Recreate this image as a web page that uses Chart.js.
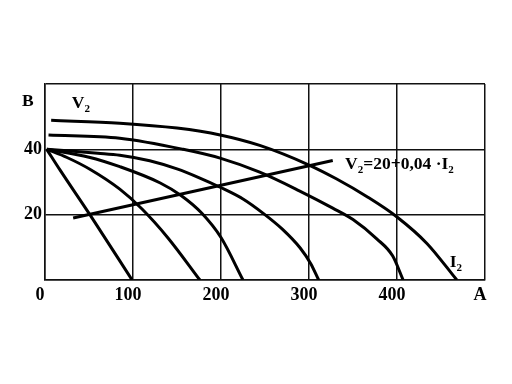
<!DOCTYPE html>
<html><head><meta charset="utf-8">
<script src="https://cdn.jsdelivr.net/npm/chart.js@4"></script>
<style>html,body{margin:0;padding:0;background:#fff}#c{display:block}</style>
</head><body>
<canvas id="c" width="512" height="384"></canvas>
<script>
// Axis ticks
const xTicks = [0, 100, 200, 300, 400, 500];
const xTickLabels = ['0', '100', '200', '300', '400', 'А'];
const yTicks = [0, 20, 40, 60];
const yTickLabels = ['', '20', '40', ''];

// External characteristics V2(I2)
const curve1I = [7, 85, 150, 199, 244, 300, 331, 366, 400, 434, 468];
const curve1V = [48.9, 48.0, 46.5, 44.4, 41.2, 35.2, 31.0, 25.5, 19.3, 11.2, 0];
const curve2I = [4, 85, 157, 199, 244, 289, 327, 350, 377, 395, 407];
const curve2V = [44.4, 43.4, 40.0, 37.3, 33.0, 27.3, 22.0, 18.5, 12.6, 7.4, 0];
const fanAI = [2, 17, 51, 99];
const fanAV = [40, 33.7, 20, 0];
const fanBI = [2, 25, 51, 85, 110, 140, 176];
const fanBV = [40, 37.5, 33.9, 27.8, 21.8, 12.8, 0];
const fanCI = [2, 50, 85, 131, 155, 178, 200, 225];
const fanCV = [40, 37.6, 34.7, 29.7, 25.8, 20.5, 13.0, 0];
const fanDI = [2, 60, 85, 119, 150, 176, 199, 225, 248, 270, 290, 302, 311];
const fanDV = [40, 38.8, 38.2, 36.5, 34.0, 31.2, 28.4, 24.8, 20.4, 15.5, 9.8, 5.0, 0];
// Load line V2 = 20 + 0,04·I2 (as drawn)
const loadI = [32, 327];
const loadV = [19.0, 36.6];

const series = [
  [curve1I, curve1V], [curve2I, curve2V], [fanAI, fanAV], [fanBI, fanBV],
  [fanCI, fanCV], [fanDI, fanDV], [loadI, loadV]
];

// Text annotations (data units)
const annotations = [
  { x: -19.5, y: 55.2, parts: [['В', 0]], align: 'center' },
  { x: 30.5, y: 52.6, parts: [['V', 0], ['2', 1]] },
  { x: 341, y: 34.0, parts: [['V', 0], ['2', 1], ['=20+0,04 ·I', 0], ['2', 1]] },
  { x: 460, y: 4.0, parts: [['I', 0], ['2', 1]] }
];

const FONT = '"Liberation Serif", "Times New Roman", serif';

const textPlugin = {
  id: 'texts',
  afterDraw(chart) {
    const ctx = chart.ctx, xs = chart.scales.x, ys = chart.scales.y;
    ctx.save();
    ctx.fillStyle = '#000';
    ctx.textBaseline = 'alphabetic';
    annotations.forEach(a => {
      let px = xs.getPixelForValue(a.x), py = ys.getPixelForValue(a.y);
      const fonts = ['bold 17.5px ' + FONT, 'bold 11px ' + FONT];
      if (a.align === 'center') {
        let w = 0;
        a.parts.forEach(p => { ctx.font = fonts[p[1]]; w += ctx.measureText(p[0]).width; });
        px -= w / 2;
        py += 6;
      }
      a.parts.forEach(p => {
        ctx.font = fonts[p[1]];
        ctx.textAlign = 'left';
        ctx.fillText(p[0], px, py + (p[1] ? 4 : 0));
        px += ctx.measureText(p[0]).width;
      });
    });
    ctx.restore();
  }
};

new Chart(document.getElementById('c'), {
  type: 'line',
  data: {
    datasets: series.map(s => ({
      data: s[0].map((x, i) => ({ x: x, y: s[1][i] })),
      borderColor: '#000',
      borderWidth: 3,
      pointRadius: 0,
      fill: false,
      cubicInterpolationMode: 'monotone'
    }))
  },
  options: {
    responsive: false,
    animation: false,
    devicePixelRatio: 1,
    layout: { padding: { left: 0, top: 84, right: 27, bottom: 0 } },
    plugins: { legend: { display: false }, tooltip: { enabled: false } },
    scales: {
      x: {
        type: 'linear', min: 0, max: 500,
        afterBuildTicks: s => { s.ticks = xTicks.map(v => ({ value: v })); },
        afterFit: s => { s.height = 104; },
        ticks: {
          callback: v => xTickLabels[xTicks.indexOf(v)],
          font: { family: FONT, size: 18, weight: 'bold' },
          color: '#000', padding: 5, labelOffset: -5,
          maxRotation: 0, autoSkip: false
        },
        grid: { color: '#111', lineWidth: 1.5, drawTicks: false },
        border: { color: '#111', width: 1.5 }
      },
      y: {
        type: 'linear', min: 0, max: 60,
        afterBuildTicks: s => { s.ticks = yTicks.map(v => ({ value: v })); },
        afterFit: s => { s.width = 45; },
        ticks: {
          callback: v => yTickLabels[yTicks.indexOf(v)],
          font: { family: FONT, size: 18, weight: 'bold' },
          color: '#000', padding: 3, autoSkip: false
        },
        grid: { color: '#111', lineWidth: 1.5, drawTicks: false },
        border: { color: '#111', width: 1.5 }
      }
    }
  },
  plugins: [textPlugin]
});
</script>
</body></html>
